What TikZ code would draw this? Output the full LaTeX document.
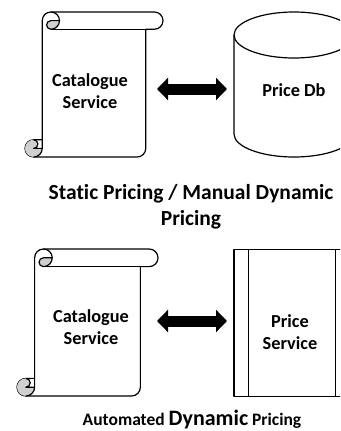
\documentclass[tikz,border=0pt]{standalone}
\usepackage{fontspec}
\setmainfont{Carlito}[Ligatures={NoCommon}]
\usetikzlibrary{arrows.meta}

\definecolor{curlgrey}{HTML}{CFCFCF}

\tikzset{
  outline/.style={draw=black, line width=1.2pt, line join=round},
  label/.style={inner sep=0pt, align=center, font=\bfseries\fontsize{18.3}{22}\selectfont},
  title/.style={inner sep=0pt, align=center, font=\bfseries\fontsize{21.5}{26}\selectfont},
  dblarrow/.style={line width=11pt,
    {Triangle[width=22pt,length=11pt]}-{Triangle[width=22pt,length=11pt]}},
}

% Vertical scroll: left, top, width, height (y grows downwards)
\newcommand\drawscroll[4]{%
  \begin{scope}[shift={(#1,#2)}]
    \pgfmathsetmacro\sCh{0.125*min(#3,#4)}
    \pgfmathsetmacro\sChh{\sCh/2}
    \pgfmathsetmacro\sChq{\sCh/4}
    \pgfmathsetmacro\sXc{1.5*\sCh}
    \pgfmathsetmacro\sXd{2*\sCh}
    \pgfmathsetmacro\sXf{#3-\sCh}
    \pgfmathsetmacro\sXg{#3-\sChh}
    \pgfmathsetmacro\sYc{#4-\sCh}
    \pgfmathsetmacro\sYd{#4-\sChh}
    % sheet and rolls
    \path[outline, fill=white] (\sCh,\sYc) -- (\sCh,\sChh)
      arc[start angle=180, delta angle=90, radius=\sChh] -- (\sXg,0)
      arc[start angle=270, delta angle=180, radius=\sChh] -- (\sXf,\sCh)
      -- (\sXf,\sYd) arc[start angle=0, delta angle=90, radius=\sChh]
      -- (\sChh,#4) arc[start angle=90, delta angle=180, radius=\sChh] -- cycle;
    % shaded curls
    \fill[curlgrey] (\sXd,\sChh) arc[start angle=0, delta angle=90, radius=\sChh]
      arc[start angle=90, delta angle=180, radius=\sChq] -- cycle;
    \fill[curlgrey] (\sCh,\sYd) arc[start angle=0, delta angle=270, radius=\sChh]
      arc[start angle=270, delta angle=180, radius=\sChq] -- cycle;
    % curl strokes
    \draw[outline] (\sXc,0) arc[start angle=270, delta angle=180, radius=\sChh]
      arc[start angle=90, delta angle=180, radius=\sChq] -- (\sXd,\sChh);
    \draw[outline] (\sXf,\sCh) -- (\sXc,\sCh);
    \draw[outline] (\sChh,\sYc) arc[start angle=270, delta angle=180, radius=\sChq]
      -- (\sCh,\sYd);
    \draw[outline] (\sChh,#4) arc[start angle=90, delta angle=-90, radius=\sChh]
      -- (\sCh,\sYc);
  \end{scope}}

\begin{document}
\begin{tikzpicture}[x=1pt, y=-1pt]
  \useasboundingbox (0,0) rectangle (340,431);
  \clip (0,0) rectangle (340,431);

  % ---- static / manual dynamic pricing ----
  \drawscroll{25}{12}{138}{145}
  \node[label] (cat1) at (90,91.5) {Catalogue\\Service};

  \path[outline, fill=white] (234,35) -- (234,134)
    arc[start angle=180, delta angle=-180, x radius=60, y radius=23] -- (354,35);
  \draw[outline] (294,35) ellipse[x radius=60, y radius=23];
  \node[label, anchor=base] (db) at (294,96) {Price Db};

  \coordinate (cat1R) at (157,89);
  \coordinate (dbL) at (227,89);
  \draw[dblarrow] (cat1R) -- (dbL);

  \node[title] (t1) at (191,206.5) {Static Pricing / Manual Dynamic\\Pricing};

  % ---- automated dynamic pricing ----
  \drawscroll{17}{249}{141}{147}
  \node[label] (cat2) at (91,327.5) {Catalogue\\Service};

  \draw[outline, fill=white] (234,249.5) rectangle (350,396.5);
  \draw[outline] (248.5,249.5) -- (248.5,396.5);
  \draw[outline] (335.5,249.5) -- (335.5,396.5);
  \node[label] (ps) at (290,332) {Price\\Service};

  \coordinate (cat2R) at (157,321);
  \coordinate (psL) at (227,321);
  \draw[dblarrow] (cat2R) -- (psL);

  \node[inner sep=0pt, anchor=base, font=\bfseries\fontsize{17.5}{21}\selectfont] (t2)
    at (192,425.5) {Automated {\fontsize{22}{26}\selectfont Dynamic} Pricing};
\end{tikzpicture}
\end{document}
